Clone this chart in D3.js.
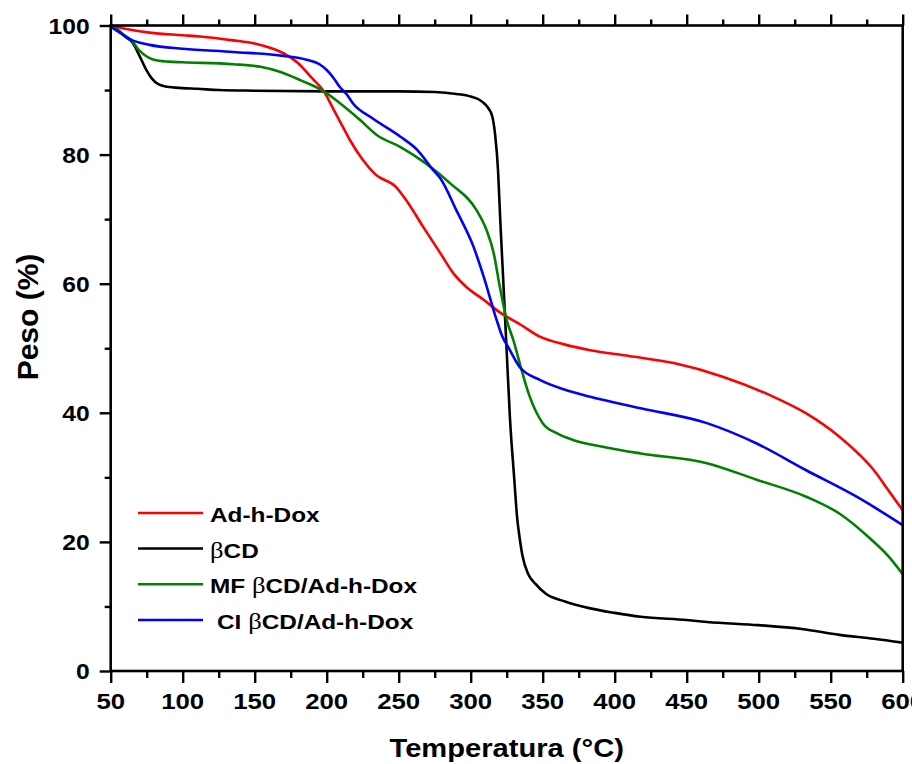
<!DOCTYPE html>
<html>
<head>
<meta charset="utf-8">
<script src="https://cdn.jsdelivr.net/npm/d3@7"></script>
<style>
  html, body { margin: 0; padding: 0; background: #fff; }
  svg { display: block; }
  text { font-family: "Liberation Sans", Arial, sans-serif; font-weight: bold; fill: #000; }
</style>
</head>
<body>
<svg id="chart" width="912" height="764"></svg>
<script>
// Thermogravimetric curves: temperature (°C) vs. residual weight (%)
const tempAdhDox = [50, 60, 77, 100, 112, 135, 150, 160, 170, 180, 190, 198, 205, 210, 216, 225, 234, 248, 255, 267, 279, 288, 297, 309, 320, 335, 348, 365, 383, 410, 441, 475, 510, 533, 556, 570, 580, 590, 600];
const pesoAdhDox = [100, 99.5, 98.9, 98.5, 98.3, 97.7, 97.2, 96.6, 95.7, 94.2, 91.8, 89.8, 86.9, 84.8, 82.3, 79.2, 76.9, 75.0, 73.0, 68.8, 64.7, 61.6, 59.5, 57.5, 55.6, 53.6, 51.8, 50.6, 49.7, 48.8, 47.7, 45.6, 42.5, 39.9, 36.3, 33.5, 31.1, 28.0, 24.9];

const tempBCD = [50, 55, 60, 65, 70, 75, 78.5, 83, 89, 100, 110, 125, 150, 200, 250, 275, 290, 300, 306, 310, 312.5, 315, 317, 319, 320.5, 322.5, 325, 327.3, 330, 332.4, 334.2, 336, 340, 345, 352, 365, 383, 400, 418, 450, 464, 500, 530, 556, 580, 600];
const pesoBCD = [100, 99.3, 98.3, 97.4, 95.3, 93.0, 91.8, 90.9, 90.5, 90.3, 90.2, 90.0, 89.9, 89.8, 89.8, 89.7, 89.4, 89.0, 88.5, 87.8, 87.1, 85.9, 83.0, 77.5, 70.0, 61.0, 49.5, 39.0, 30.5, 23.4, 20.3, 17.8, 15.0, 13.5, 12.0, 10.8, 9.7, 9.0, 8.4, 7.9, 7.6, 7.1, 6.5, 5.6, 5.0, 4.4];

const tempMF = [50, 55, 60, 64, 70, 75, 80, 90, 100, 135, 154, 168, 182, 198, 209, 223, 235, 251, 269, 286, 304, 311, 316, 320, 325, 330, 334, 341, 350, 360, 371, 395, 418, 464, 499, 533, 556, 577, 590, 600];
const pesoMF = [100, 99.2, 98.4, 97.8, 96.1, 95.2, 94.7, 94.4, 94.3, 94.0, 93.6, 92.8, 91.5, 89.8, 88.0, 85.4, 83.0, 81.2, 78.6, 75.5, 71.4, 68.3, 64.7, 59.8, 54.4, 51.0, 47.7, 42.5, 38.4, 36.8, 35.8, 34.6, 33.7, 32.2, 29.6, 27.0, 24.4, 20.6, 17.8, 15.0];

const tempCI = [50, 55, 64, 77, 100, 135, 170, 186, 195, 200, 205, 209, 214, 218, 232, 251, 263, 274, 279, 290, 302, 309, 318, 322, 326, 334, 348, 365, 383, 418, 464, 499, 533, 568, 600];
const pesoCI = [99.8, 99.1, 97.8, 97.0, 96.4, 95.9, 95.3, 94.7, 94.0, 93.1, 91.8, 90.5, 89.3, 88.0, 85.6, 82.8, 80.7, 77.6, 76.3, 71.4, 65.7, 61.1, 54.4, 51.8, 50.2, 47.1, 45.1, 43.6, 42.5, 40.7, 38.4, 35.2, 31.1, 27.0, 22.6];

const seriesNames = ["Ad-h-Dox", "βCD", "MF βCD/Ad-h-Dox", "CI βCD/Ad-h-Dox"];
const seriesColors = ["#ff0000", "#000000", "#008000", "#0000ff"];

const xMajorTicks = [50, 100, 150, 200, 250, 300, 350, 400, 450, 500, 550, 600];
const xMinorTicks = [75, 125, 175, 225, 275, 325, 375, 425, 475, 525, 575];
const yMajorTicks = [0, 20, 40, 60, 80, 100];
const yMinorTicks = [10, 30, 50, 70, 90];

const xTitle = "Temperatura (°C)";
const yTitle = "Peso (%)";

const series = [
  { name: seriesNames[0], color: seriesColors[0], t: tempAdhDox, w: pesoAdhDox },
  { name: seriesNames[1], color: seriesColors[1], t: tempBCD, w: pesoBCD },
  { name: seriesNames[2], color: seriesColors[2], t: tempMF, w: pesoMF },
  { name: seriesNames[3], color: seriesColors[3], t: tempCI, w: pesoCI }
];

const svg = d3.select("#chart");
const plotLeft = 110.7, plotRight = 902.7, plotTop = 25.5, plotBottom = 671;

const x = d3.scaleLinear().domain([50, 600]).range([plotLeft, plotRight]);
const y = d3.scaleLinear().domain([0, 100]).range([plotBottom, plotTop]);

const sx = 1.12; // glyphs are drawn slightly wide

// curves
const line = d3.line()
  .x(d => x(d[0]))
  .y(d => y(d[1]))
  .curve(d3.curveMonotoneX);

const plot = svg.append("g");
plot.append("clipPath").attr("id", "clip")
  .append("rect").attr("x", plotLeft).attr("y", plotTop - 2)
  .attr("width", plotRight - plotLeft).attr("height", plotBottom - plotTop + 4);

const drawOrder = [1, 0, 2, 3];
drawOrder.forEach(i => {
  const s = series[i];
  plot.append("path")
    .datum(s.t.map((t, k) => [t, s.w[k]]))
    .attr("d", line)
    .attr("fill", "none")
    .attr("stroke", s.color)
    .attr("stroke-width", 2.6)
    .attr("stroke-linejoin", "round")
    .attr("clip-path", "url(#clip)");
});

// axes
function styleAxis(g) {
  g.select(".domain").remove();
  g.selectAll("line").attr("stroke", "#000").attr("stroke-width", 2.4);
  g.selectAll("text").remove();
}

svg.append("g").attr("transform", `translate(0,${plotBottom})`)
  .call(d3.axisBottom(x).tickValues(xMajorTicks).tickSize(12).tickFormat(""))
  .call(styleAxis);
svg.append("g").attr("transform", `translate(0,${plotBottom})`)
  .call(d3.axisBottom(x).tickValues(xMinorTicks).tickSize(7).tickFormat(""))
  .call(styleAxis);
svg.append("g").attr("transform", `translate(0,${plotTop})`)
  .call(d3.axisTop(x).tickValues(xMajorTicks).tickSize(11).tickFormat(""))
  .call(styleAxis);
svg.append("g").attr("transform", `translate(0,${plotTop})`)
  .call(d3.axisTop(x).tickValues(xMinorTicks).tickSize(6).tickFormat(""))
  .call(styleAxis);
svg.append("g").attr("transform", `translate(${plotLeft},0)`)
  .call(d3.axisLeft(y).tickValues(yMajorTicks).tickSize(11).tickFormat(""))
  .call(styleAxis);
svg.append("g").attr("transform", `translate(${plotLeft},0)`)
  .call(d3.axisLeft(y).tickValues(yMinorTicks).tickSize(6).tickFormat(""))
  .call(styleAxis);

// frame
svg.append("rect")
  .attr("x", plotLeft).attr("y", plotTop)
  .attr("width", plotRight - plotLeft).attr("height", plotBottom - plotTop)
  .attr("fill", "none").attr("stroke", "#000").attr("stroke-width", 2.6);

// tick labels (the last one runs off the right edge)
svg.append("g").selectAll("text").data(xMajorTicks).join("text")
  .attr("transform", d => `translate(${x(d)},${plotBottom + 38}) scale(${sx},1)`)
  .attr("text-anchor", "middle")
  .style("font-size", "23px")
  .text(d => d);

svg.append("g").selectAll("text").data(yMajorTicks).join("text")
  .attr("transform", d => `translate(${plotLeft - 21},${y(d) + 8}) scale(${sx},1)`)
  .attr("text-anchor", "end")
  .style("font-size", "22px")
  .text(d => d);

// axis titles
svg.append("text")
  .attr("transform", `translate(${(plotLeft + plotRight) / 2},${plotBottom + 86}) scale(${sx},1)`)
  .attr("text-anchor", "middle")
  .style("font-size", "26px")
  .text(xTitle);

svg.append("text")
  .attr("transform", `translate(38,317) rotate(-90)`)
  .attr("text-anchor", "middle")
  .style("font-size", "30px")
  .text(yTitle);

// legend
const legendY = [513, 548.5, 584.3, 620];
const legend = svg.append("g");
series.forEach((s, i) => {
  legend.append("line")
    .attr("x1", 138).attr("x2", 203)
    .attr("y1", legendY[i]).attr("y2", legendY[i])
    .attr("stroke", s.color).attr("stroke-width", 2.6);
  const t = legend.append("text")
    .attr("transform", `translate(${i === 3 ? 217 : 210},${legendY[i] + 9}) scale(1.16,1)`)
    .style("font-size", "21px");
  // split so the Greek letter can be set in a lighter serif face
  const parts = s.name.split("β");
  if (parts.length === 1) {
    t.text(s.name);
  } else {
    if (parts[0]) t.append("tspan").text(parts[0].trim() + "\u00a0");
    t.append("tspan").text("β")
      .style("font-family", "'Liberation Serif', serif")
      .style("font-weight", "normal")
      .style("font-size", "23px");
    t.append("tspan").text(parts[1]);
  }
});
</script>
</body>
</html>
